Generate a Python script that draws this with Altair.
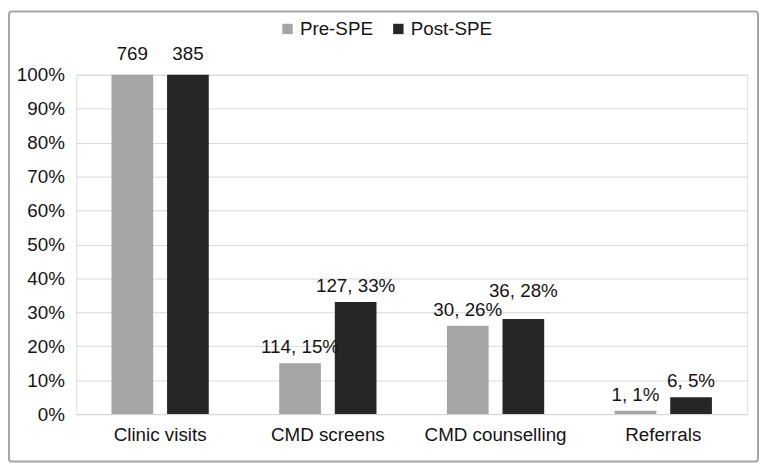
import altair as alt
import pandas as pd

categories = ["Clinic visits", "CMD screens", "CMD counselling", "Referrals"]
series = ["Pre-SPE", "Post-SPE"]
pre_pct = [1.00, 0.15, 0.26, 0.01]
post_pct = [1.00, 0.33, 0.28, 0.05]
pre_labels = ["769", "114, 15%", "30, 26%", "1, 1%"]
post_labels = ["385", "127, 33%", "36, 28%", "6, 5%"]
colors = ["#a5a5a5", "#262626"]

rows = []
for i, c in enumerate(categories):
    rows.append({"cat": c, "series": series[0], "pct": pre_pct[i], "label": pre_labels[i]})
    rows.append({"cat": c, "series": series[1], "pct": post_pct[i], "label": post_labels[i]})
df = pd.DataFrame(rows)

FONT = "Liberation Sans, Arial, sans-serif"
FS = 19
TXT = "#141414"
W, H = 678, 343

x = alt.X("cat:N", sort=categories, title=None,
          scale=alt.Scale(paddingInner=0.42, paddingOuter=0.21),
          axis=alt.Axis(labelAngle=0, labelFontSize=FS, labelFont=FONT, labelColor=TXT,
                        ticks=False, domainColor="#d9d9d9", labelPadding=12))
xo = alt.XOffset("series:N", sort=series, scale=alt.Scale(paddingInner=0.25, paddingOuter=0))
y = alt.Y("pct:Q", title=None,
          scale=alt.Scale(domain=[0, 1], nice=False),
          axis=alt.Axis(format=".0%", values=[i / 10 for i in range(11)], labelFontSize=FS,
                        labelFont=FONT, labelColor=TXT, ticks=False, domain=False,
                        gridColor="#d9d9d9", labelPadding=12))
color = alt.Color("series:N", sort=series,
                  scale=alt.Scale(domain=series, range=colors),
                  legend=alt.Legend(orient="none", legendX=204, legendY=-56, direction="horizontal",
                                    title=None, symbolType="square", symbolSize=110,
                                    symbolStrokeWidth=0, labelFontSize=FS, labelFont=FONT,
                                    labelColor=TXT, columnPadding=16, labelOffset=3))

base = alt.Chart(df)
bars = base.mark_bar().encode(x=x, xOffset=xo, y=y, color=color)


def label_layer(cond, dy):
    return base.transform_filter(cond).mark_text(
        baseline="bottom", dy=dy, fontSize=FS, font=FONT, color=TXT
    ).encode(x=x, xOffset=xo, y=y, text="label:N")


text_low = label_layer("datum.pct < 1 && datum.label != '36, 28%'", -6)
text_lift = label_layer("datum.label == '36, 28%'", -18)
text_top = label_layer("datum.pct >= 1", -11)

border = alt.Chart(pd.DataFrame({"a": [0]})).mark_rect(
    fill=None, stroke="#a6a6a6", strokeWidth=2, cornerRadius=3
).encode(x=alt.value(-68), x2=alt.value(W + 11), y=alt.value(-64), y2=alt.value(H + 48))

chart = alt.layer(bars, text_low, text_lift, text_top, border).properties(
    width=W, height=H,
    autosize=alt.AutoSizeParams(type="none"),
    padding={"left": 69, "top": 65, "right": 12, "bottom": 49},
).configure_view(stroke=None).configure(background="white")

chart.save("out.html", embed_options={"renderer": "svg", "actions": False})
